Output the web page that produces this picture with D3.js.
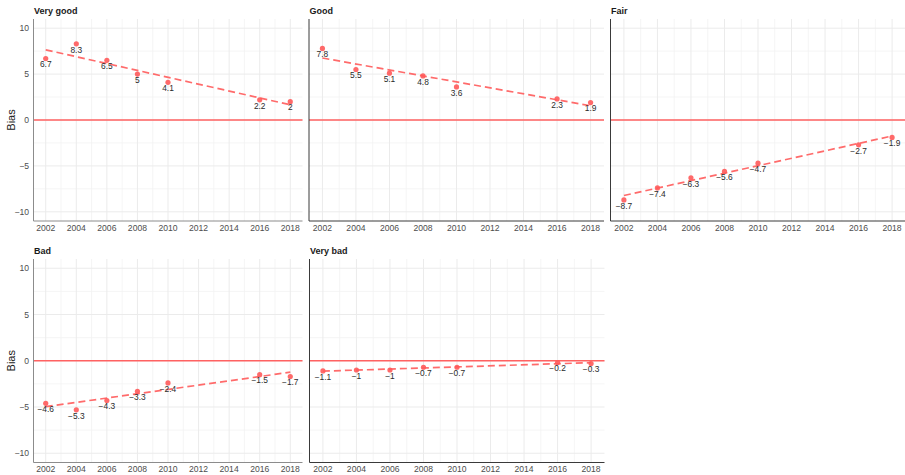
<!DOCTYPE html>
<html>
<head>
<meta charset="utf-8">
<script src="https://cdn.jsdelivr.net/npm/d3@7"></script>
<style>
  html, body { margin: 0; padding: 0; background: #fff; }
  svg { display: block; font-family: "Liberation Sans", Arial, Helvetica, sans-serif; }
</style>
</head>
<body>
<svg id="chart" width="905" height="475"></svg>
<script>
// Survey years shared by every panel
const years = [2002, 2004, 2006, 2008, 2010, 2016, 2018];

// Panel names (self-rated health categories)
const categories = ["Very good", "Good", "Fair", "Bad", "Very bad"];

// Bias per year, one array per category
const veryGood = [6.7, 8.3, 6.5, 5, 4.1, 2.2, 2];
const good     = [7.8, 5.5, 5.1, 4.8, 3.6, 2.3, 1.9];
const fair     = [-8.7, -7.4, -6.3, -5.6, -4.7, -2.7, -1.9];
const bad      = [-4.6, -5.3, -4.3, -3.3, -2.4, -1.5, -1.7];
const veryBad  = [-1.1, -1, -1, -0.7, -0.7, -0.2, -0.3];

// Axis ticks
const xTicks = [2002, 2004, 2006, 2008, 2010, 2012, 2014, 2016, 2018];
const xMinor = [2003, 2005, 2007, 2009, 2011, 2013, 2015, 2017];
const yTicks = [-10, -5, 0, 5, 10];
const yMinor = [-7.5, -2.5, 2.5, 7.5];

const seriesList = [veryGood, good, fair, bad, veryBad];

// Panel frames: left/right edges, bottom/top edges
const frames = [
  { x: [33.5, 302.5], y: [221, 19],    showY: true,  axis: "#8c8c8c" },
  { x: [309, 604],    y: [221, 19],    showY: false, axis: "#3a3a3a" },
  { x: [610.5, 905.5],y: [221, 19],    showY: false, axis: "#3a3a3a" },
  { x: [33.5, 302.5], y: [462.5, 259], showY: true,  axis: "#8c8c8c" },
  { x: [309.5, 604.5],y: [462.5, 259], showY: false, axis: "#3a3a3a" }
];

const red = "#ff5a5a";
const fmt = v => String(v).replace("-", "\u2212");
const svg = d3.select("#chart");

// least-squares trend through the points of one panel
function fitLine(xs, ys) {
  const n = xs.length;
  const mx = d3.mean(xs), my = d3.mean(ys);
  let sxy = 0, sxx = 0;
  for (let i = 0; i < n; i++) {
    sxy += (xs[i] - mx) * (ys[i] - my);
    sxx += (xs[i] - mx) * (xs[i] - mx);
  }
  const b = sxy / sxx;
  return x => my + b * (x - mx);
}

categories.forEach((name, i) => {
  const f = frames[i];
  const values = seriesList[i];
  const x = d3.scaleLinear().domain([2001.2, 2018.8]).range(f.x);
  const y = d3.scaleLinear().domain([-11, 11]).range(f.y);
  const g = svg.append("g");

  // minor grid
  g.selectAll(null).data(xMinor).join("line")
    .attr("x1", d => x(d)).attr("x2", d => x(d))
    .attr("y1", f.y[0]).attr("y2", f.y[1])
    .attr("stroke", "#f3f3f3").attr("stroke-width", 0.8);
  g.selectAll(null).data(yMinor).join("line")
    .attr("y1", d => y(d)).attr("y2", d => y(d))
    .attr("x1", f.x[0]).attr("x2", f.x[1])
    .attr("stroke", "#f3f3f3").attr("stroke-width", 0.8);
  // major grid
  g.selectAll(null).data(xTicks).join("line")
    .attr("x1", d => x(d)).attr("x2", d => x(d))
    .attr("y1", f.y[0]).attr("y2", f.y[1])
    .attr("stroke", "#ebebeb").attr("stroke-width", 1);
  g.selectAll(null).data(yTicks).join("line")
    .attr("y1", d => y(d)).attr("y2", d => y(d))
    .attr("x1", f.x[0]).attr("x2", f.x[1])
    .attr("stroke", "#ebebeb").attr("stroke-width", 1);

  // reference line at zero
  g.append("line")
    .attr("x1", f.x[0]).attr("x2", f.x[1])
    .attr("y1", y(0)).attr("y2", y(0))
    .attr("stroke", "#ff6262").attr("stroke-width", 1.3);

  // axis lines
  g.append("line")
    .attr("x1", f.x[0]).attr("x2", f.x[0])
    .attr("y1", f.y[0]).attr("y2", f.y[1])
    .attr("stroke", f.axis).attr("stroke-width", 1);
  g.append("line")
    .attr("x1", f.x[0]).attr("x2", f.x[1])
    .attr("y1", f.y[0]).attr("y2", f.y[0])
    .attr("stroke", f.axis).attr("stroke-width", 1);

  // x tick labels
  g.selectAll(null).data(xTicks).join("text")
    .attr("x", d => x(d)).attr("y", f.y[0] + 9.5)
    .attr("text-anchor", "middle")
    .attr("font-size", 8.6).attr("fill", "#4d4d4d")
    .text(d => d);

  // y tick labels and axis title
  if (f.showY) {
    g.selectAll(null).data(yTicks).join("text")
      .attr("x", f.x[0] - 4.5).attr("y", d => y(d) + 3)
      .attr("text-anchor", "end")
      .attr("font-size", 8.6).attr("fill", "#4d4d4d")
      .text(d => fmt(d));
    g.append("text")
      .attr("transform", `translate(15,${y(0)}) rotate(-90)`)
      .attr("text-anchor", "middle")
      .attr("font-size", 11).attr("fill", "#1a1a1a")
      .text("Bias");
  }

  // panel title
  g.append("text")
    .attr("x", f.x[0] + 0.5).attr("y", f.y[1] - 5)
    .attr("font-size", 9).attr("font-weight", "bold").attr("fill", "#1a1a1a")
    .text(name);

  // linear trend
  const trend = fitLine(years, values);
  g.append("line")
    .attr("x1", x(years[0])).attr("y1", y(trend(years[0])))
    .attr("x2", x(years[years.length - 1])).attr("y2", y(trend(years[years.length - 1])))
    .attr("stroke", "#ff6b6b").attr("stroke-width", 1.7)
    .attr("stroke-dasharray", "7,4");

  const pts = years.map((yr, k) => ({ yr, v: values[k] }));

  // points
  g.selectAll(null).data(pts).join("circle")
    .attr("cx", d => x(d.yr)).attr("cy", d => y(d.v))
    .attr("r", 2.6).attr("fill", red).attr("fill-opacity", 0.9);

  // value labels
  g.selectAll(null).data(pts).join("text")
    .attr("x", d => x(d.yr)).attr("y", d => y(d.v) + 8.8)
    .attr("text-anchor", "middle")
    .attr("font-size", 8.4).attr("fill", "#2b2b2b")
    .text(d => fmt(d.v));
});
</script>
</body>
</html>
